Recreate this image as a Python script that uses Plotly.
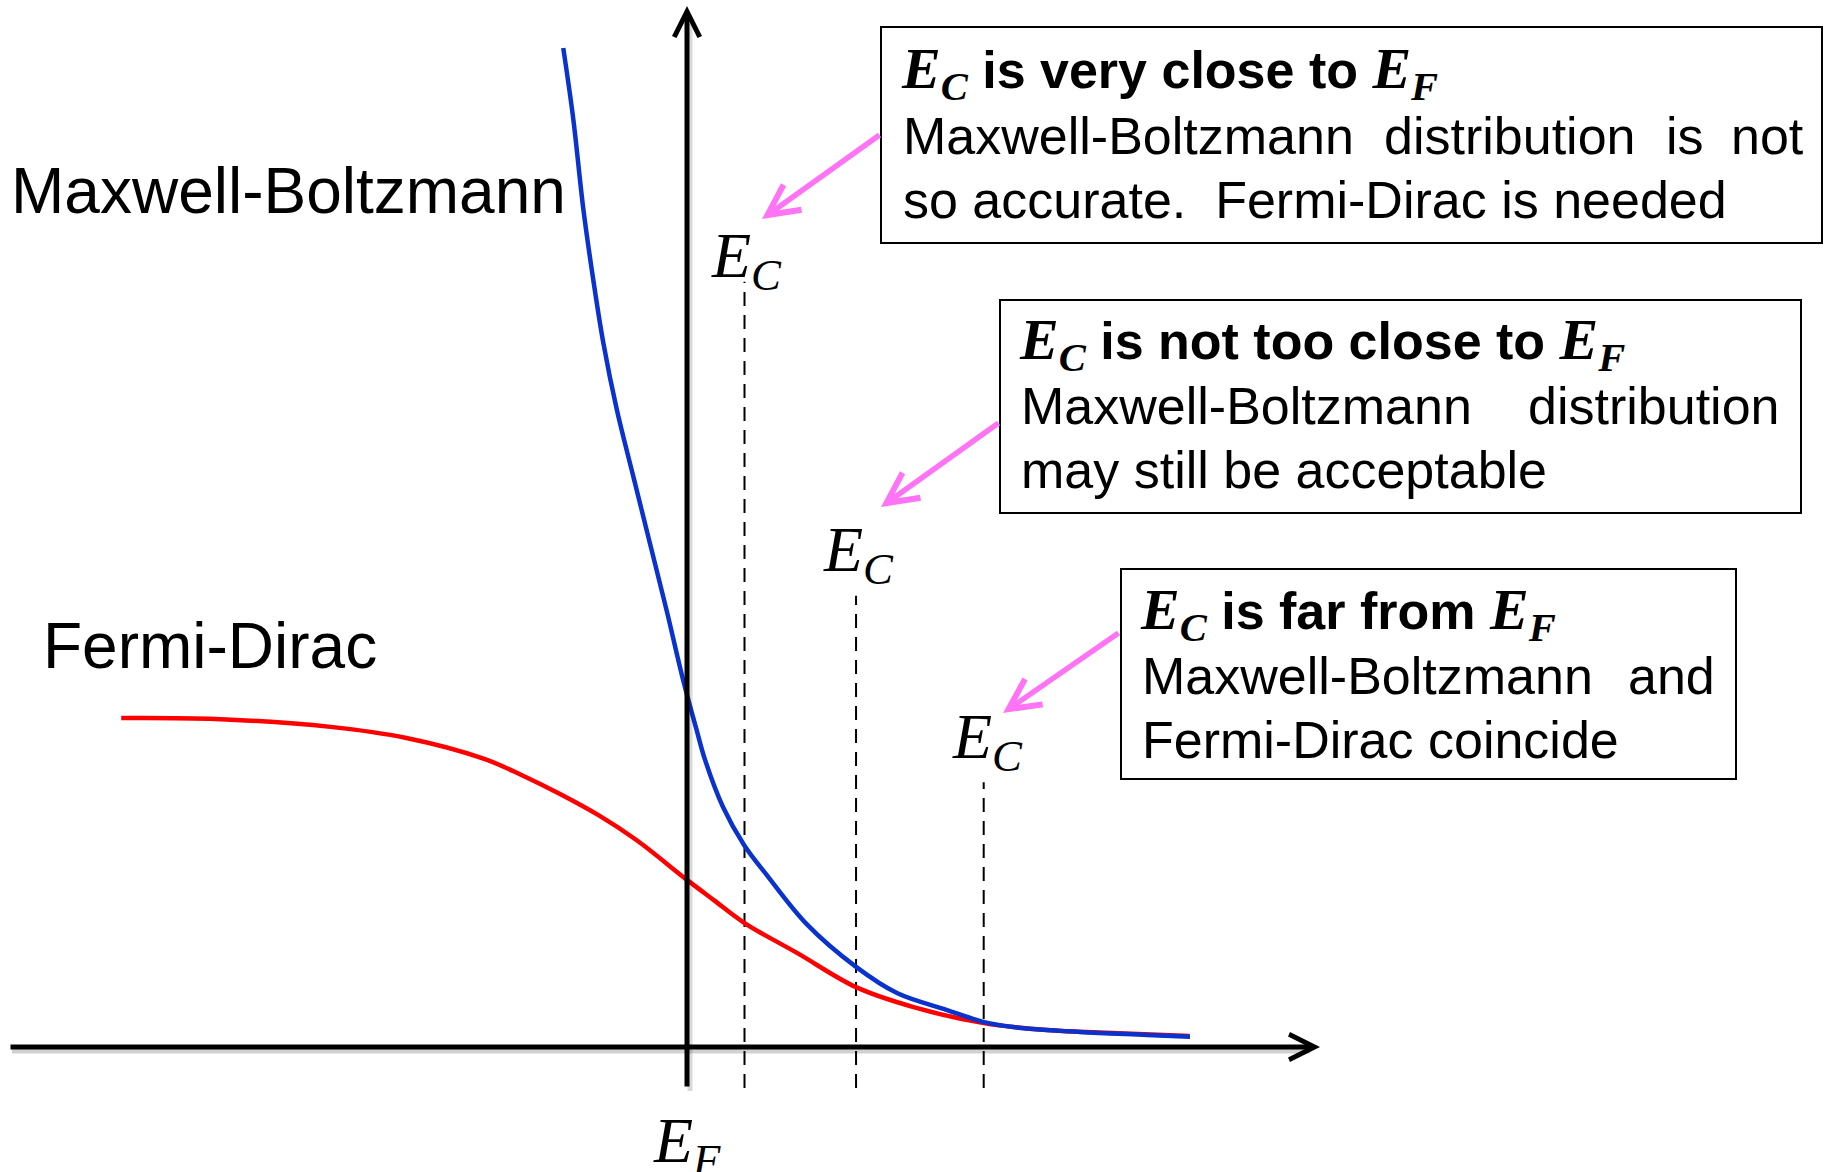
import plotly.graph_objects as go

W, H = 1824, 1172

# ---------------- data (energy in kT from E_F, occupancy) ----------------
FD_E = [-4.92, -4.10, -3.10, -2.44, -1.77, -1.44, -1.10, -0.77, -0.44, 0.00,
        0.23, 0.50, 0.96, 1.47, 1.97, 2.58, 3.13, 3.70, 4.37]
FD_f = [1.006, 1.003, 0.979, 0.945, 0.882, 0.832, 0.773, 0.709, 0.633, 0.511,
        0.450, 0.379, 0.287, 0.183, 0.122, 0.073, 0.052, 0.043, 0.034]

MB_E = [-1.076, -0.989, -0.902, -0.815, -0.728, -0.611, -0.467, -0.322, -0.177,
        -0.032, 0.084, 0.157, 0.313, 0.496, 0.696, 1.043, 1.470, 1.826, 2.261,
        2.583, 2.835, 3.417, 4.000, 4.374]
MB_f = [3.055, 2.838, 2.564, 2.346, 2.154, 1.950, 1.745, 1.540, 1.335,
        1.120, 0.969, 0.878, 0.734, 0.618, 0.525, 0.375, 0.245, 0.165, 0.113,
        0.076, 0.061, 0.046, 0.037, 0.031]

EC_E = [0.50, 1.47, 2.58]        # three example conduction-band edges
EC_TOP = [2.34, 1.38, 0.81]      # top of each dashed marker
EC_BOTTOM = -0.125

LABEL_MB = "Maxwell-Boltzmann"
LABEL_FD = "Fermi-Dirac"

# ---------------- geometry helpers ----------------
X0_PX, X_SCALE = 687, 115
Y0_PX, Y_SCALE = 1047, 327
XR = [(0 - X0_PX) / X_SCALE, (W - X0_PX) / X_SCALE]
YR = [(Y0_PX - H) / Y_SCALE, Y0_PX / Y_SCALE]


def P(x):
    return x / W


def Q(y):
    return 1 - y / H


SANS = "Liberation Sans, Arial, sans-serif"
SERIF = "Liberation Serif"
PINK = "#FF73F5"


def E(sub, size=None):
    st = f"font-family:{SERIF}"
    if size:
        st += f";font-size:{size}px"
    return f'<span style="{st}"><i>E</i><sub><i>{sub}</i></sub></span>'


fig = go.Figure()

# dashed E_C markers
for e, top in zip(EC_E, EC_TOP):
    fig.add_trace(go.Scatter(x=[e, e], y=[EC_BOTTOM, top], mode="lines",
                             line=dict(color="black", width=2, dash="14px,9px"),
                             hoverinfo="skip"))

fig.add_trace(go.Scatter(x=FD_E, y=FD_f, mode="lines", name=LABEL_FD,
                         line=dict(color="#FF0000", width=4.5, shape="spline", smoothing=1.0)))
fig.add_trace(go.Scatter(x=MB_E, y=MB_f, mode="lines", name=LABEL_MB,
                         line=dict(color="#0A32CC", width=4.5, shape="spline", smoothing=1.0)))

shapes = []
# axis shadows
shapes.append(dict(type="line", xref="paper", yref="paper", x0=P(12), x1=P(1310),
                   y0=Q(1051), y1=Q(1051), line=dict(color="rgba(0,0,0,0.18)", width=5)))
shapes.append(dict(type="line", xref="paper", yref="paper", x0=P(690), x1=P(690),
                   y0=Q(24), y1=Q(1091), line=dict(color="rgba(0,0,0,0.15)", width=5)))
# boxes
for x0, x1, y0, y1 in [(881, 1822, 27, 243), (1000, 1801, 300, 513), (1121, 1736, 569, 779)]:
    shapes.append(dict(type="rect", xref="paper", yref="paper", x0=P(x0), x1=P(x1),
                       y0=Q(y1), y1=Q(y0), line=dict(color="black", width=2),
                       fillcolor="rgba(0,0,0,0)"))

ann = []


def arrow(x, y, tx, ty, color, width, head, size):
    # head at (x, y), tail at (tx, ty); all in page pixels
    ann.append(dict(xref="paper", yref="paper", axref="pixel", ayref="pixel",
                    x=P(x), y=Q(y), ax=tx - x, ay=ty - y, text="", showarrow=True,
                    arrowcolor=color, arrowwidth=width, arrowhead=head,
                    arrowsize=size, standoff=0, startstandoff=0))


# axes
arrow(1320, 1047, 9, 1047, "black", 5, 5, 1.0)
arrow(687, 6, 687, 1088, "black", 5, 5, 1.0)
# pink pointers
arrow(762, 219, 881, 134, PINK, 5.5, 5, 1.1)
arrow(881, 507, 1000, 422, PINK, 5.5, 5, 1.1)
arrow(1003, 713, 1120, 632, PINK, 5.5, 5, 1.1)


def txt(text, x, y, size, xanchor="left", family=SANS):
    ann.append(dict(xref="paper", yref="paper", x=P(x), y=Q(y), text=text,
                    showarrow=False, xanchor=xanchor, yanchor="middle",
                    font=dict(family=family, size=size, color="black"),
                    borderpad=0))


# big labels
txt(LABEL_MB, 10, 191, 64)
txt(LABEL_FD, 42, 646, 64)

# E_C / E_F markers
ec_lbl = E("C")
txt(ec_lbl, 710, 260, 64, family=SERIF)
txt(ec_lbl, 822, 554, 64, family=SERIF)
txt(ec_lbl, 951, 741, 64, family=SERIF)
txt(E("F"), 652, 1145, 64, family=SERIF)

FS = 52
# box 1
txt(f"<b>{E('C', size=58)} is very close to {E('F', size=58)}</b>", 900, 72, FS)
txt("Maxwell-Boltzmann", 902, 136, FS)
txt("distribution", 1383, 136, FS)
txt("is", 1665, 136, FS)
txt("not", 1805, 136, FS, xanchor="right")
txt("so accurate.\u00a0 Fermi-Dirac is needed", 902, 200, FS)
# box 2
txt(f"<b>{E('C', size=58)} is not too close to {E('F', size=58)}</b>", 1018, 343, FS)
txt("Maxwell-Boltzmann", 1020, 406, FS)
txt("distribution", 1780, 406, FS, xanchor="right")
txt("may still be acceptable", 1020, 470, FS)
# box 3
txt(f"<b>{E('C', size=58)} is far from {E('F', size=58)}</b>", 1139, 613, FS)
txt("Maxwell-Boltzmann", 1141, 676, FS)
txt("and", 1716, 676, FS, xanchor="right")
txt("Fermi-Dirac coincide", 1141, 740, FS)

fig.update_layout(
    width=W, height=H, margin=dict(l=0, r=0, t=0, b=0),
    paper_bgcolor="white", plot_bgcolor="white", showlegend=False,
    xaxis=dict(range=XR, visible=False, fixedrange=True),
    yaxis=dict(range=YR, visible=False, fixedrange=True),
    shapes=shapes, annotations=ann,
)

fig.write_html("out.html", config={"displayModeBar": False},
               post_script="document.body.style.margin='0px';document.body.style.overflow='hidden';")
